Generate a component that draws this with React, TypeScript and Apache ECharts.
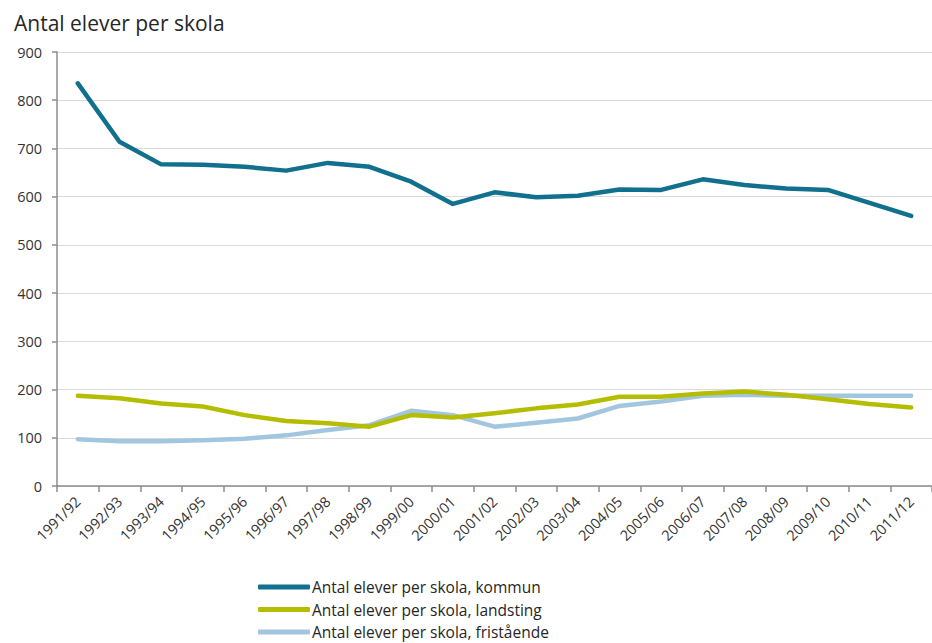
import React, { useEffect, useRef } from "react";
import * as echarts from "echarts";

const categories = [
  "1991/92", "1992/93", "1993/94", "1994/95", "1995/96", "1996/97", "1997/98",
  "1998/99", "1999/00", "2000/01", "2001/02", "2002/03", "2003/04", "2004/05",
  "2005/06", "2006/07", "2007/08", "2008/09", "2009/10", "2010/11", "2011/12",
];

const kommun = [835, 714, 667, 666, 662, 654, 670, 662, 631, 585, 609, 599, 602, 615, 614, 636, 624, 617, 614, 587, 560];
const landsting = [187, 182, 171, 165, 147, 135, 130, 123, 147, 142, 151, 161, 169, 185, 185, 192, 196, 189, 180, 170, 163];
const fristaende = [97, 93, 93, 95, 98, 105, 116, 126, 156, 147, 123, 131, 140, 166, 175, 187, 189, 187, 187, 187, 187];

const seriesNames = [
  "Antal elever per skola, kommun",
  "Antal elever per skola, landsting",
  "Antal elever per skola, fristående",
];
const colors = ["#11708d", "#b5bd00", "#a3c6e0"];

const FONT = "'Open Sans', 'Noto Sans', sans-serif";

export default function App() {
  const ref = useRef<HTMLDivElement>(null);

  useEffect(() => {
    if (!ref.current) return;
    const chart = echarts.init(ref.current, undefined, { renderer: "svg" });
    const values = [kommun, landsting, fristaende];
    chart.setOption({
      animation: false,
      backgroundColor: "#ffffff",
      title: {
        text: "Antal elever per skola",
        left: 9,
        top: 7,
        textStyle: { fontFamily: FONT, fontSize: 21, fontWeight: "normal", color: "#262626" },
      },
      legend: {
        orient: "vertical",
        left: 258,
        top: 579,
        height: 120,
        padding: 0,
        itemWidth: 52,
        itemHeight: 5,
        itemGap: 6.5,
        icon: "roundRect",
        textStyle: { fontFamily: FONT, fontSize: 15.5, color: "#262626", padding: [0, 0, 0, -3] },
        data: seriesNames,
      },
      grid: { left: 57, top: 52, width: 884, height: 434, containLabel: false },
      xAxis: {
        type: "category",
        data: categories,
        boundaryGap: true,
        axisLine: { lineStyle: { color: "#8c8c8c", width: 1.5 } },
        axisTick: { show: true, length: 6, lineStyle: { color: "#8c8c8c", width: 1.5 } },
        axisLabel: {
          rotate: 45,
          interval: 0,
          margin: 13,
          fontFamily: FONT,
          fontSize: 14.5,
          color: "#333333",
        },
      },
      yAxis: {
        type: "value",
        min: 0,
        max: 900,
        interval: 100,
        axisLine: { show: true, lineStyle: { color: "#8c8c8c", width: 1.5 } },
        axisTick: { show: true, length: 5, lineStyle: { color: "#8c8c8c", width: 1.5 } },
        splitLine: { lineStyle: { color: "#d9d9d9", width: 1.2 } },
        axisLabel: { margin: 15, fontFamily: FONT, fontSize: 14.5, color: "#333333" },
      },
      series: seriesNames.map((name, i) => ({
        name,
        type: "line",
        data: values[i],
        showSymbol: false,
        symbol: "none",
        smooth: false,
        lineStyle: { color: colors[i], width: 4.5, cap: "round", join: "round" },
        itemStyle: { color: colors[i] },
        z: 3 - i,
      })),
    });
    return () => chart.dispose();
  }, []);

  return (
    <div
      ref={ref}
      style={{ position: "absolute", left: 0, top: 0, width: 932, height: 643 }}
    />
  );
}
